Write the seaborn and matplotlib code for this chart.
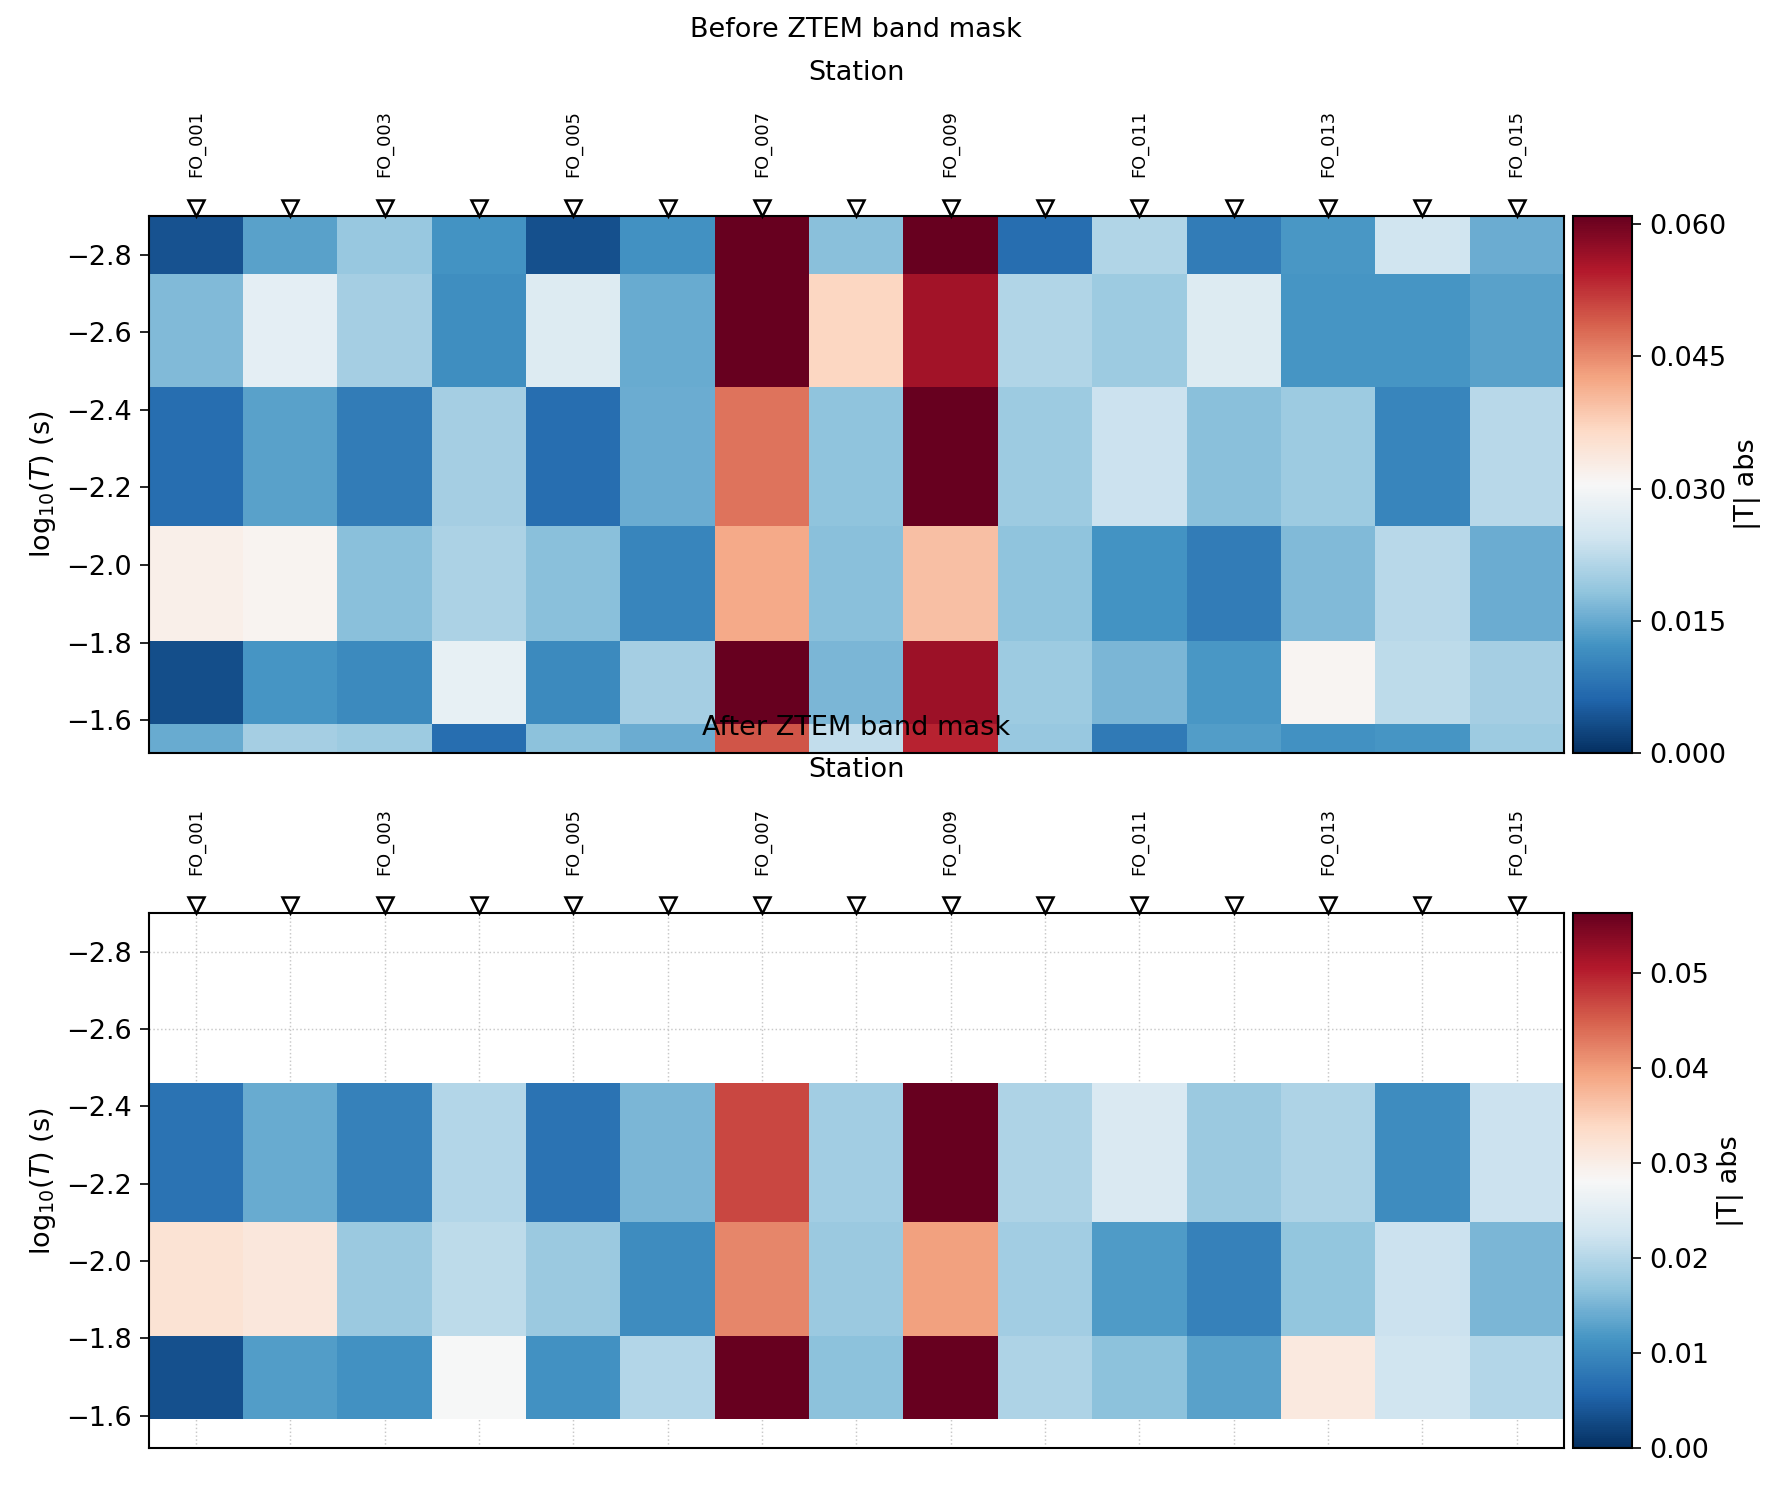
# |T| (tipper amplitude) pseudo-sections before / after the ZTEM band mask
import numpy as np
import matplotlib
matplotlib.use("Agg")
import matplotlib.pyplot as plt
from matplotlib.ticker import FormatStrFormatter
import seaborn as sns

# stations along the profile
stations = ["FO_%03d" % i for i in range(1, 16)]

# log10 period bin edges (s), shortest period first
period_edges = [-2.90, -2.75, -2.46, -2.10, -1.805, -1.59, -1.515]

# |T| abs per period bin (one list per row, one value per station)
t_row1 = [0.004, 0.014, 0.019, 0.0122, 0.0037, 0.012, 0.064, 0.0177, 0.064, 0.0073, 0.0213, 0.0091, 0.0128, 0.0244, 0.0153]
t_row2 = [0.017, 0.0275, 0.020, 0.0116, 0.0262, 0.015, 0.064, 0.037, 0.056, 0.0213, 0.0195, 0.0262, 0.0125, 0.0125, 0.014]
t_row3 = [0.0073, 0.014, 0.0091, 0.020, 0.0073, 0.0153, 0.047, 0.0183, 0.064, 0.0195, 0.0238, 0.0177, 0.0195, 0.0104, 0.022]
t_row4 = [0.0323, 0.0314, 0.0177, 0.0207, 0.0177, 0.0104, 0.042, 0.0177, 0.0397, 0.0183, 0.0122, 0.0091, 0.0171, 0.022, 0.0153]
t_row5 = [0.0034, 0.0124, 0.011, 0.028, 0.011, 0.020, 0.064, 0.0165, 0.0565, 0.0195, 0.0165, 0.0128, 0.031, 0.0225, 0.020]
t_row6 = [0.015, 0.020, 0.0195, 0.0073, 0.018, 0.0153, 0.0495, 0.023, 0.054, 0.019, 0.009, 0.0135, 0.012, 0.0125, 0.0195]

# period bins inside the ZTEM band (kept after masking)
in_band = [False, False, True, True, True, False]

tabs = np.array([t_row1, t_row2, t_row3, t_row4, t_row5, t_row6])
tabs_masked = np.where(np.array(in_band)[:, None], tabs, np.nan)

sns.set_style("ticks")
plt.rcParams.update({
    "axes.edgecolor": "black",
    "axes.linewidth": 1.0,
    "xtick.color": "black",
    "ytick.color": "black",
    "text.color": "black",
    "axes.labelcolor": "black",
    "axes.unicode_minus": True,
})
plt.rcParams["font.family"] = ["DejaVu Sans"]

cmap = sns.color_palette("RdBu_r", as_cmap=True)

fig = plt.figure(figsize=(1781 / 150, 1487 / 150), dpi=150)
ax_top = fig.add_axes([0.0835, 0.4935, 0.7946, 0.3613])
cax_top = fig.add_axes([0.8833, 0.4935, 0.0332, 0.3613])
ax_bot = fig.add_axes([0.0835, 0.0260, 0.7946, 0.3598])
cax_bot = fig.add_axes([0.8833, 0.0260, 0.0332, 0.3598])


def draw_panel(ax, cax, values, vmax, cticks, cfmt, title):
    n = len(stations)
    x_edges = np.arange(n + 1) - 0.5
    ax.set_axisbelow(True)
    ax.grid(True, color="#c8c8c8", linestyle=":", linewidth=0.7)
    mesh = ax.pcolormesh(x_edges, period_edges, np.ma.masked_invalid(values),
                         cmap=cmap, vmin=0, vmax=vmax)
    ax.set_xlim(-0.5, n - 0.5)
    ax.set_ylim(period_edges[-1], period_edges[0])

    # station labels on top, every other one
    ax.set_xticks(np.arange(n))
    ax.set_xticklabels([s if i % 2 == 0 else "" for i, s in enumerate(stations)])
    ax.tick_params(axis="x", top=True, labeltop=True, bottom=False, labelbottom=False,
                   labelrotation=90, labelsize=8.5, pad=15)
    ax.xaxis.set_label_position("top")
    ax.set_xlabel("Station", fontsize=13, labelpad=14.5)

    # station markers
    ax.plot(np.arange(n), [1.0155] * n, linestyle="none", marker="v", markersize=8,
            markerfacecolor="white", markeredgecolor="black", markeredgewidth=1.2,
            transform=ax.get_xaxis_transform(), clip_on=False, zorder=5)

    ax.set_yticks([-2.8, -2.6, -2.4, -2.2, -2.0, -1.8, -1.6])
    ax.tick_params(axis="y", labelsize=13, length=4.5)
    ax.set_ylabel(r"log$_{10}$($T$) (s)", fontsize=13)
    ax.set_title(title, fontsize=13, pad=11)

    cb = fig.colorbar(mesh, cax=cax)
    cb.set_ticks(cticks)
    cb.ax.yaxis.set_major_formatter(FormatStrFormatter(cfmt))
    cb.ax.tick_params(labelsize=13, length=4.5)
    cb.set_label("|T| abs", fontsize=13)
    cb.outline.set_linewidth(1.0)


draw_panel(ax_top, cax_top, tabs, 0.0609,
           [0.0, 0.015, 0.030, 0.045, 0.060], "%.3f", "Before ZTEM band mask")
draw_panel(ax_bot, cax_bot, tabs_masked, 0.0563,
           [0.0, 0.01, 0.02, 0.03, 0.04, 0.05], "%.2f", "After ZTEM band mask")

fig.savefig("out.png", dpi=150)
